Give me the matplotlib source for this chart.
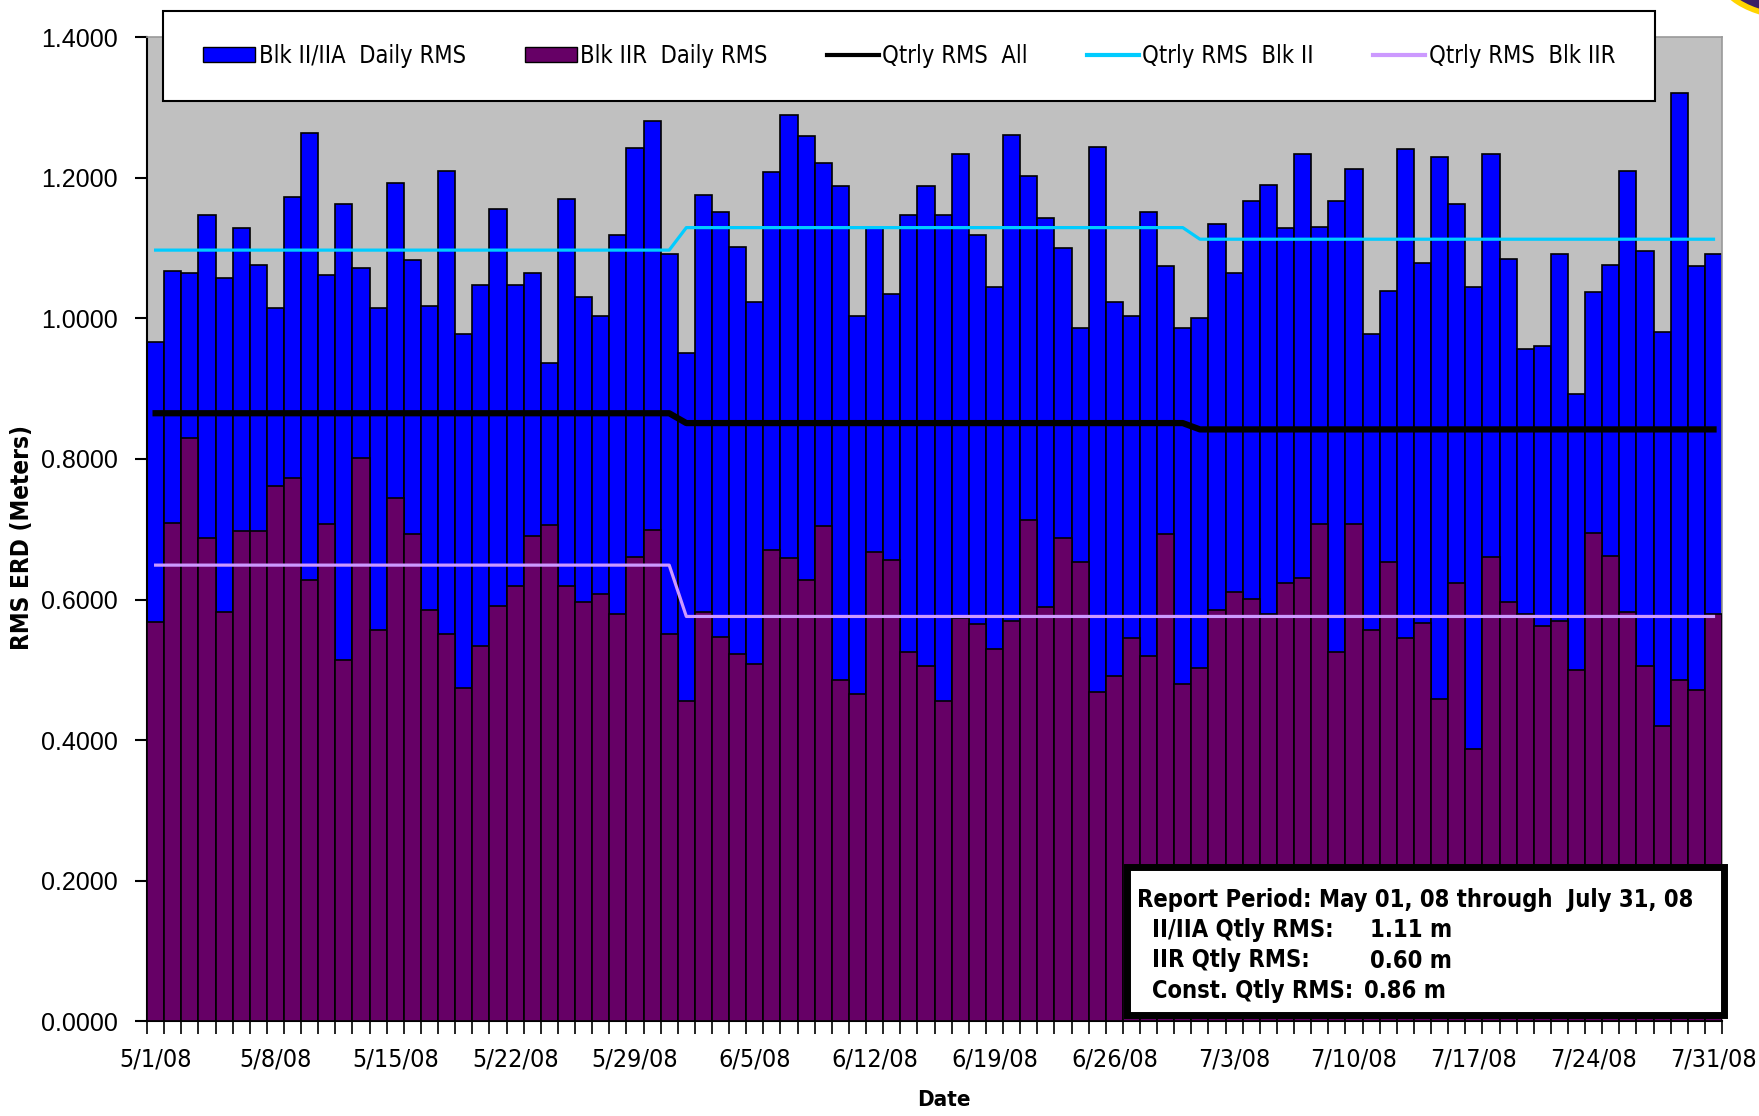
import numpy as np
import pandas as pd
import matplotlib.pyplot as plt
from matplotlib.patches import Rectangle, Patch, Ellipse
from matplotlib.lines import Line2D

# daily values, 5/1/08 .. 7/31/08
dates = pd.date_range("2008-05-01", "2008-07-31", freq="D")

blk2_daily = [
    0.966, 1.068, 1.065, 1.147, 1.057, 1.128, 1.076, 1.014, 1.173, 1.264,
    1.062, 1.162, 1.071, 1.014, 1.193, 1.083, 1.017, 1.210, 0.978, 1.048,
    1.156, 1.048, 1.065, 0.937, 1.170, 1.031, 1.003, 1.119, 1.242, 1.281,
    1.091, 0.951, 1.176, 1.151, 1.102, 1.023, 1.208, 1.289, 1.259, 1.221,
    1.188, 1.003, 1.129, 1.034, 1.147, 1.188, 1.147, 1.233, 1.119, 1.045,
    1.261, 1.202, 1.142, 1.100, 0.986, 1.244, 1.023, 1.003, 1.151, 1.074,
    0.986, 1.000, 1.134, 1.065, 1.167, 1.190, 1.128, 1.233, 1.130, 1.167,
    1.213, 0.977, 1.039, 1.241, 1.079, 1.230, 1.162, 1.045, 1.233, 1.085,
    0.957, 0.960, 1.091, 0.892, 1.037, 1.076, 1.210, 1.096, 0.980, 1.321,
    1.074, 1.091,
]
blk2r_daily = [
    0.568, 0.709, 0.830, 0.687, 0.582, 0.698, 0.698, 0.762, 0.773, 0.628,
    0.707, 0.514, 0.801, 0.557, 0.744, 0.693, 0.585, 0.551, 0.474, 0.534,
    0.591, 0.619, 0.690, 0.706, 0.619, 0.596, 0.608, 0.579, 0.660, 0.699,
    0.551, 0.456, 0.582, 0.547, 0.523, 0.509, 0.670, 0.659, 0.628, 0.704,
    0.485, 0.466, 0.668, 0.656, 0.525, 0.505, 0.456, 0.574, 0.565, 0.530,
    0.570, 0.713, 0.590, 0.687, 0.654, 0.468, 0.491, 0.546, 0.520, 0.693,
    0.480, 0.503, 0.585, 0.611, 0.601, 0.580, 0.624, 0.630, 0.707, 0.525,
    0.707, 0.557, 0.654, 0.546, 0.566, 0.459, 0.624, 0.388, 0.661, 0.596,
    0.580, 0.562, 0.570, 0.500, 0.695, 0.662, 0.582, 0.505, 0.420, 0.486,
    0.472, 0.580,
]

# quarterly RMS running values per month (May, Jun, Jul)
qtr_all = [0.865, 0.851, 0.842]
qtr_blk2 = [1.097, 1.129, 1.1125]
qtr_blk2r = [0.649, 0.576, 0.576]

month_idx = dates.month.values - 5
all_line = np.array(qtr_all)[month_idx]
blk2_line = np.array(qtr_blk2)[month_idx]
blk2r_line = np.array(qtr_blk2r)[month_idx]

date_labels = [f"{d.month}/{d.day}/08" for d in dates]

# condensed look for the Excel "Arial Narrow" texts
narrow = dict(family="DejaVu Sans", stretch="condensed")
plain = ["Liberation Sans", "DejaVu Sans"]

fig = plt.figure(figsize=(17.59, 11.16), dpi=100)
ax = fig.add_axes([0.0836, 0.0847, 0.8954, 0.8821])
ax.set_facecolor("#C0C0C0")

x = np.arange(len(dates))
ax.bar(x, blk2_daily, width=1.0, color="#0000FF", edgecolor="black", linewidth=1.2, zorder=2)
ax.bar(x, blk2r_daily, width=1.0, color="#660066", edgecolor="black", linewidth=1.2, zorder=3)
ax.plot(x, all_line, color="black", lw=4.5, zorder=4)
ax.plot(x, blk2_line, color="#00CCFF", lw=2.3, zorder=4)
ax.plot(x, blk2r_line, color="#CC99FF", lw=2.3, zorder=4)

ax.set_xlim(-0.5, len(dates) - 0.5)
ax.set_ylim(0, 1.4)

ax.set_yticks(np.arange(0, 1.41, 0.2))
ax.set_yticklabels([f"{v:.4f}" for v in np.arange(0, 1.41, 0.2)], family=plain, fontsize=18)
ax.tick_params(axis="y", length=9, width=1.5, direction="out", pad=12)

ax.set_xticks(x[::7])
ax.set_xticklabels(date_labels[::7], fontsize=18, **narrow)
ax.set_xticks(np.arange(-0.5, len(dates), 1), minor=True)
ax.tick_params(axis="x", which="major", length=0, pad=19)
ax.tick_params(axis="x", which="minor", length=9, width=1.2, direction="out")

for s in ["left", "bottom"]:
    ax.spines[s].set_linewidth(1.5)
    ax.spines[s].set_color("black")
for s in ["top", "right"]:
    ax.spines[s].set_color("#999999")
    ax.spines[s].set_linewidth(1.2)

fig.text(0.0127, 0.518, "RMS ERD (Meters)", rotation=90, ha="center", va="center",
         fontsize=17.5, fontweight="bold", **narrow)
fig.text(0.5367, 0.0143, "Date", ha="center", va="center",
         fontsize=16, fontweight="bold", **narrow)

# legend box
fig.patches.append(Rectangle((0.0927, 0.9095), 0.848, 0.0806, transform=fig.transFigure,
                             facecolor="white", edgecolor="black", lw=1.5, zorder=5))
handles = [
    Patch(facecolor="#0000FF", edgecolor="black"),
    Patch(facecolor="#660066", edgecolor="black"),
    Line2D([], [], color="black", lw=3),
    Line2D([], [], color="#00CCFF", lw=3),
    Line2D([], [], color="#CC99FF", lw=3),
]
labels = ["Blk II/IIA  Daily RMS", "Blk IIR  Daily RMS", "Qtrly RMS  All",
          "Qtrly RMS  Blk II", "Qtrly RMS  Blk IIR"]
leg = fig.legend(handles, labels, ncol=5, loc="center", bbox_to_anchor=(0.5168, 0.9498),
                 frameon=False, prop={"size": 17, **narrow},
                 handlelength=2.2, handleheight=0.6, handletextpad=0.15, columnspacing=2.5)
leg.set_zorder(6)

# report box
fig.patches.append(Rectangle((0.6407, 0.0905), 0.3394, 0.1326, transform=fig.transFigure,
                             facecolor="white", edgecolor="black", lw=5, zorder=5))
box_font = dict(fontsize=17, fontweight="bold", va="center", zorder=6, **narrow)
fig.text(1137 / 1759, 1 - 900 / 1116, "Report Period: May 01, 08 through  July 31, 08", **box_font)
rows = [("II/IIA Qtly RMS:", "1.11 m", 1370), ("IIR Qtly RMS:", "0.60 m", 1370),
        ("Const. Qtly RMS:", "0.86 m", 1364)]
for i, (lab, val, vx) in enumerate(rows):
    yy = 1 - (930 + 30.5 * i) / 1116
    fig.text(1152 / 1759, yy, lab, **box_font)
    fig.text(vx / 1759, yy, val, **box_font)

# corner of the slide logo, top right
fig.patches.append(Ellipse((1.02, 1.03), 0.09, 0.09, transform=fig.transFigure,
                           facecolor="#3A1F66", edgecolor="#FFD400", lw=4, zorder=1))

fig.savefig("out.png", dpi=100)
